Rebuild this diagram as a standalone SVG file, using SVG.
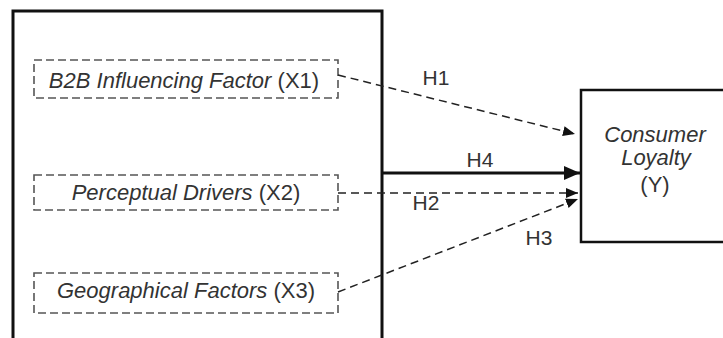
<svg xmlns="http://www.w3.org/2000/svg" width="723" height="338" viewBox="0 0 723 338">
<style>
.t{font-family:"Liberation Sans",Arial,sans-serif;font-size:22px;fill:#333;text-anchor:middle}
.h{font-size:21px}
.i{font-style:italic}
.db{fill:none;stroke:#555;stroke-width:1.6;stroke-dasharray:8 4}
.dc{fill:none;stroke:#222;stroke-width:1.5;stroke-dasharray:8 5}
.sb{fill:none;stroke:#111}
</style>
<defs>
<marker id="a" markerWidth="12" markerHeight="10" refX="12" refY="5" orient="auto" markerUnits="userSpaceOnUse"><path d="M0,0 L12,5 L0,10 Z" fill="#111"/></marker>
<marker id="b" markerWidth="16" markerHeight="14" refX="16" refY="7" orient="auto" markerUnits="userSpaceOnUse"><path d="M0,0 L16,7 L0,14 Z" fill="#111"/></marker>
</defs>
<rect width="723" height="338" fill="#fff"/>
<g id="group">
<rect class="sb" x="13" y="11" width="369" height="340" stroke-width="3"/>
</g>
<g id="x1">
<rect class="db" x="34" y="60" width="304" height="38"/>
<text class="t" x="184" y="88"><tspan class="i">B2B Influencing Factor</tspan> (X1)</text>
</g>
<g id="x2">
<rect class="db" x="34" y="175" width="304" height="35"/>
<text class="t" x="186" y="200"><tspan class="i">Perceptual Drivers</tspan> (X2)</text>
</g>
<g id="x3">
<rect class="db" x="34" y="273" width="304" height="40"/>
<text class="t" x="186" y="298"><tspan class="i">Geographical Factors</tspan> (X3)</text>
</g>
<g id="y">
<rect class="sb" x="581" y="90" width="150" height="152" stroke-width="2.5"/>
<text class="t i" x="655" y="142">Consumer</text>
<text class="t i" x="656" y="165">Loyalty</text>
<text class="t" x="655" y="192">(Y)</text>
</g>
<g id="connectors">
<path class="dc" d="M338,75 L575,134" marker-end="url(#a)"/>
<path class="sb" d="M382,173 L580,173" stroke-width="3" marker-end="url(#b)"/>
<path class="dc" d="M338,193 L578,193" marker-end="url(#a)"/>
<path class="dc" d="M338,292 L578,199" marker-end="url(#a)"/>
<text class="t h" x="436" y="85">H1</text>
<text class="t h" x="480" y="167">H4</text>
<text class="t h" x="426" y="210">H2</text>
<text class="t h" x="539" y="245">H3</text>
</g>
</svg>
